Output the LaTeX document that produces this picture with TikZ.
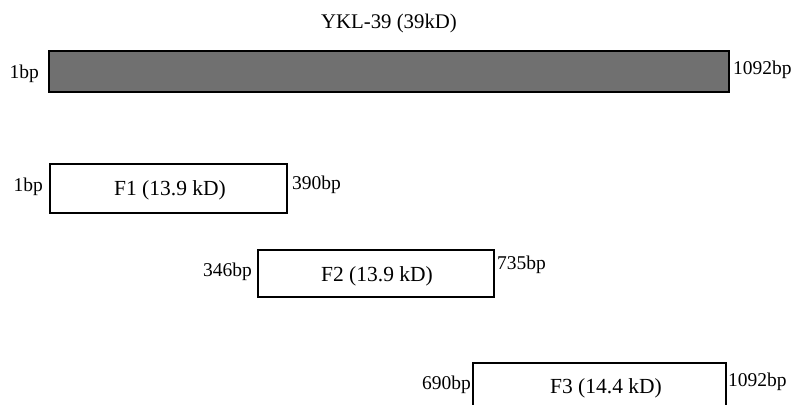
\documentclass[tikz,border=0pt]{standalone}
\usepackage{fontspec}
\setmainfont{Liberation Serif}
\definecolor{bargray}{RGB}{112,112,112}
\begin{document}
\begin{tikzpicture}[x=1pt,y=-1pt,
  frag/.style={draw=black,line width=1.6pt,fill=white},
  lbl/.style={inner sep=0pt,font=\fontsize{19.5}{21}\selectfont},
  boxtxt/.style={inner sep=0pt,font=\fontsize{21.5}{23}\selectfont}]
\useasboundingbox (0,0) rectangle (797,404);
\clip (0,0) rectangle (797,404);
% full protein
\node[inner sep=0pt,font=\fontsize{20.8}{22}\selectfont] (title) at (389,23) {YKL-39 (39kD)};
\draw[draw=black,line width=1.4pt,fill=bargray] (49,51) rectangle (729,92);
\node[lbl,anchor=east] (s0) at (39,74) {1bp};
\node[lbl,anchor=west] (e0) at (733,70) {1092bp};
% F1
\draw[frag] (50,164) rectangle (287,213);
\node[boxtxt] (f1) at (170,190) {F1 (13.9 kD)};
\node[lbl,anchor=east] (s1) at (43,187) {1bp};
\node[lbl,anchor=west] (e1) at (292,185) {390bp};
% F2
\draw[frag] (258,250) rectangle (494,297);
\node[boxtxt] (f2) at (377,276) {F2 (13.9 kD)};
\node[lbl,anchor=east] (s2) at (252,272) {346bp};
\node[lbl,anchor=west] (e2) at (497,265) {735bp};
% F3
\draw[frag] (473,363) rectangle (726,420);
\node[boxtxt] (f3) at (606,388) {F3 (14.4 kD)};
\node[lbl,anchor=east] (s3) at (471,385) {690bp};
\node[lbl,anchor=west] (e3) at (728,382) {1092bp};
\end{tikzpicture}
\end{document}
